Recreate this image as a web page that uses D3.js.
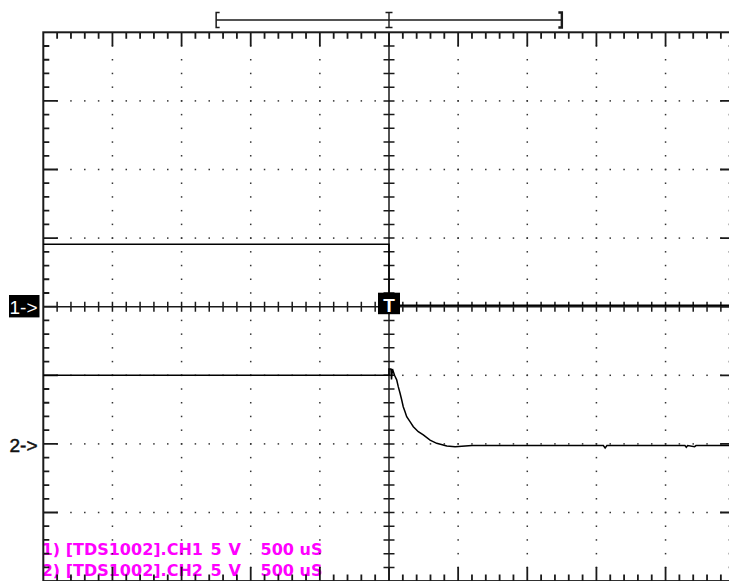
<!DOCTYPE html>
<html>
<head>
<meta charset="utf-8">
<script src="https://cdn.jsdelivr.net/npm/d3@7"></script>
<style>
  html, body { margin: 0; padding: 0; background: #fff; }
  svg { display: block; }
</style>
</head>
<body>
<svg id="chart" width="729" height="581"></svg>
<script>
// ---- data (time in microseconds, values in volts) ----
const timeDomain = [-2500, 2500];           // 10 div x 500 uS
const divDomain = [-4, 4];                  // 8 vertical divisions
const usPerDiv = 500;
const voltsPerDiv = [5, 5];                 // CH1, CH2
const groundDiv = [0, -2];                  // channel ground positions (div)

const ch1Time  = [-2500, 0, 0, 2500];
const ch1Volts = [4.55, 4.55, 0.1, 0.1];

const ch2Time  = [-2500, 0, 0, 14, 18, 25, 40, 56, 67, 80, 92, 103, 116, 128, 152, 176, 212, 248, 297, 345, 418, 478, 600, 1550, 1563, 1576, 2140, 2150, 2160, 2210, 2220, 2500];
const ch2Volts = [5.0, 5.0, 5.46, 5.46, 4.7, 5.46, 5.0, 4.66, 4.17, 3.69, 3.2, 2.71, 2.35, 1.98, 1.62, 1.25, 0.89, 0.65, 0.28, 0.04, -0.15, -0.2, -0.12, -0.12, -0.3, -0.12, -0.12, -0.25, -0.12, -0.2, -0.12, -0.12];

const bracketTimes = [-1250, 0, 1250];
const legendChannel = ["1) [TDS1002].CH1", "2) [TDS1002].CH2"];
const legendScale = ["5", "5"];
const legendUnit = ["V", "V"];
const legendTime = ["500 uS", "500 uS"];
const channelLabels = ["1->", "2->"];
const triggerLabel = "T";

// ---- scales ----
const x = d3.scaleLinear().domain(timeDomain).range([43.3, 734.7]);
const y = d3.scaleLinear().domain(divDomain).range([581.1, 32.3]);

const svg = d3.select("#chart");
const ink = "#1a1a1a";

// legend (drawn first: graticule sits over it)
const leg = svg.append("g")
  .attr("font-family", "DejaVu Sans")
  .attr("font-weight", "bold")
  .attr("font-size", 16)
  .attr("fill", "#ff00ff");
legendChannel.forEach((c, i) => {
  const yy = 554.7 + i * 21.6;
  const t = leg.append("text").attr("y", yy);
  t.append("tspan").attr("x", 41.7).text(c);
  t.append("tspan").attr("x", 210.5).text(legendScale[i]);
  t.append("tspan").attr("x", 228.6).text(legendUnit[i]);
  t.append("tspan").attr("x", 260.6).style("white-space", "pre").text(legendTime[i]);
});

// graticule helpers
const minorT = d3.range(timeDomain[0], timeDomain[1] + 1, usPerDiv / 5);
const majorT = d3.range(timeDomain[0], timeDomain[1] + 1, usPerDiv);
const minorD = d3.range(-4, 4.0001, 0.2).map(v => Math.round(v * 10) / 10);
const majorD = d3.range(-4, 5, 1);
const isMajorT = t => t % usPerDiv === 0;
const isMajorD = v => Math.abs(v - Math.round(v)) < 1e-6;
const tIn = minorT.filter(t => Math.abs(t) !== 2500);
const dIn = minorD.filter(v => Math.abs(v) !== 4);

const g = svg.append("g");

// dotted grid
const dots = [];
majorT.filter(t => t !== 0 && Math.abs(t) !== 2500).forEach(t => {
  dIn.forEach(v => dots.push([t, v]));
});
majorD.filter(v => v !== 0 && Math.abs(v) !== 4).forEach(v => {
  tIn.forEach(t => dots.push([t, v]));
});
g.append("g").selectAll("rect").data(dots).join("rect")
  .attr("x", d => x(d[0]) - 0.75)
  .attr("y", d => y(d[1]) - 0.75)
  .attr("width", 1.5).attr("height", 1.5)
  .attr("fill", "#333");

// center cross lines with ticks
const cx = x(0), cy = y(0);
let cp = `M${x(-2500)},${cy}H${x(2500)}M${cx},${y(4)}V${y(-4)}`;
tIn.forEach(t => { cp += `M${x(t)},${cy - 5}V${cy + 5}`; });
dIn.forEach(v => { cp += `M${cx - 5.5},${y(v)}H${cx + 5.5}`; });
g.append("path").attr("d", cp).attr("fill", "none")
  .attr("stroke", ink).attr("stroke-width", 1.5);

// border ticks
let bp = "";
tIn.forEach(t => {
  const L = isMajorT(t) ? 14 : 6.5;
  bp += `M${x(t)},${y(4)}V${y(4) + L}M${x(t)},${y(-4)}V${y(-4) - L}`;
});
dIn.forEach(v => {
  const L = isMajorD(v) ? 14.5 : 6;
  bp += `M${x(-2500)},${y(v)}H${x(-2500) + L}M${x(2500)},${y(v)}H${x(2500) - L}`;
});
g.append("path").attr("d", bp).attr("fill", "none")
  .attr("stroke", ink).attr("stroke-width", 1.8);

// frame
g.append("rect")
  .attr("x", x(-2500)).attr("y", y(4))
  .attr("width", x(2500) - x(-2500)).attr("height", y(-4) - y(4))
  .attr("fill", "none").attr("stroke", ink).attr("stroke-width", 2);

// top bracket (display window)
const by = 20, bh = 7.5;
const b = svg.append("g").attr("stroke", ink).attr("fill", "none");
const [b0, b1, b2] = bracketTimes.map(x);
b.append("line").attr("x1", b0).attr("x2", b2).attr("y1", by).attr("y2", by).attr("stroke-width", 1.4);
b.append("path").attr("stroke-width", 1.5)
  .attr("d", `M${b0 + 3.5},${by - bh}H${b0}V${by + bh}H${b0 + 3.5}`);
b.append("path").attr("stroke-width", 2.4)
  .attr("d", `M${b2 - 3.5},${by - bh}H${b2}V${by + bh}H${b2 - 3.5}`);
b.append("path").attr("stroke-width", 1.4)
  .attr("d", `M${b1 - 3.5},${by - bh}H${b1 + 3.5}M${b1},${by - bh}V${by + bh}M${b1 - 3.5},${by + bh}H${b1 + 3.5}`);

// traces
const line = (ch) => d3.line()
  .x(d => x(d[0]))
  .y(d => y(groundDiv[ch] + d[1] / voltsPerDiv[ch]));
const ch1 = ch1Time.map((t, i) => [t, ch1Volts[i]]);
const ch2 = ch2Time.map((t, i) => [t, ch2Volts[i]]);
svg.append("path").datum(ch1).attr("d", line(0))
  .attr("fill", "none").attr("stroke", "#000").attr("stroke-width", 1.5);
svg.append("path").datum(ch2).attr("d", line(1))
  .attr("fill", "none").attr("stroke", "#000").attr("stroke-width", 1.5);

// channel markers
const y1g = y(groundDiv[0]);
svg.append("rect").attr("x", 9).attr("y", y1g - 11.7).attr("width", 30.5).attr("height", 22.4).attr("fill", "#000");
svg.append("text").attr("x", 9.5).attr("y", y1g + 7.5)
  .attr("font-family", "Liberation Sans").attr("font-size", 19).attr("fill", "#fff")
  .text(channelLabels[0]);
const y2g = y(groundDiv[1]);
svg.append("text").attr("x", 9.5).attr("y", y2g + 8)
  .attr("font-family", "Liberation Sans").attr("font-size", 19).attr("fill", "#111")
  .attr("stroke", "#111").attr("stroke-width", 0.5)
  .text(channelLabels[1]);

// trigger marker
svg.append("rect").attr("x", cx - 11).attr("y", cy - 14).attr("width", 22).attr("height", 21.5).attr("fill", "#000");
svg.append("text").attr("x", cx).attr("y", cy + 5.5).attr("text-anchor", "middle")
  .attr("font-family", "Liberation Sans").attr("font-weight", "bold").attr("font-size", 19).attr("fill", "#fff")
  .text(triggerLabel);
</script>
</body>
</html>
